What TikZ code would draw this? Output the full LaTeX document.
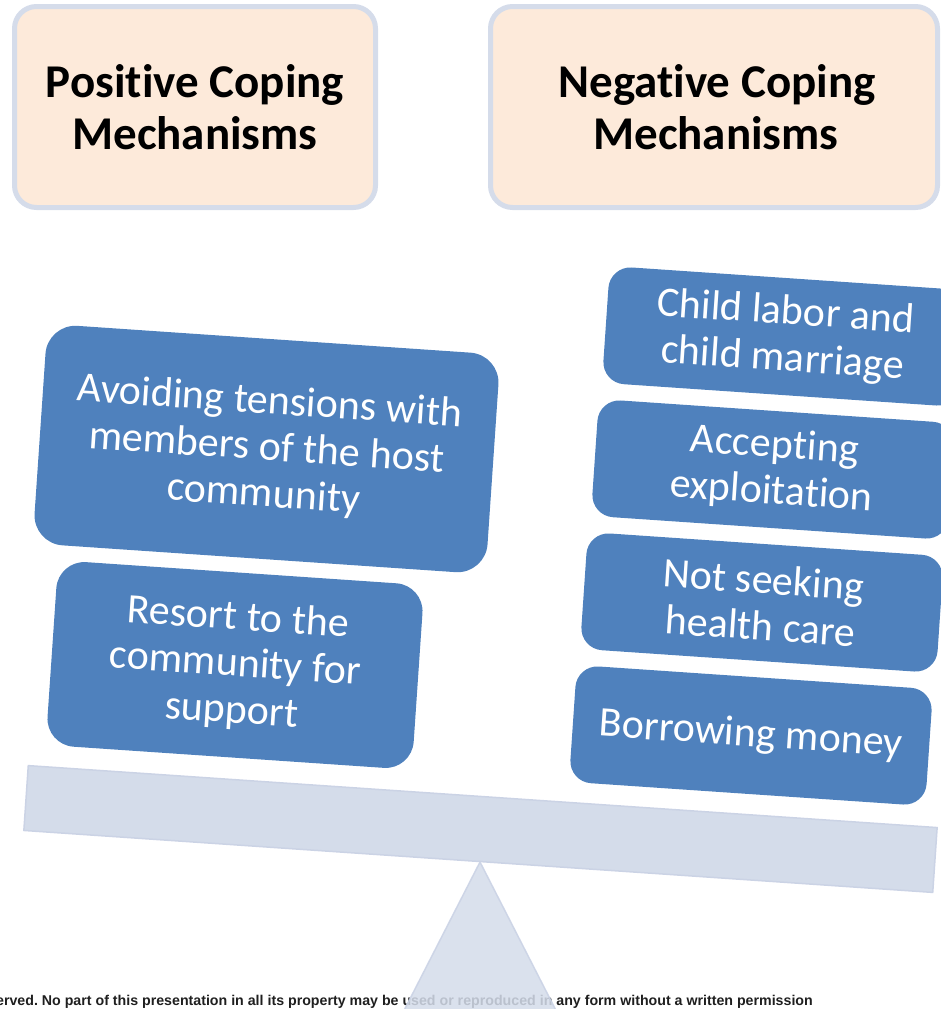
\documentclass[tikz,border=0pt]{standalone}
\usepackage{fontspec}
\setmainfont{Carlito}[Ligatures={NoCommon}]
\newfontfamily\arialfont{Liberation Sans}
\definecolor{peach}{HTML}{FDEADA}
\definecolor{hdrline}{HTML}{D5DCEA}
\definecolor{boxblue}{HTML}{4F81BD}
\definecolor{beamfill}{HTML}{D4DCEA}
\definecolor{beamline}{HTML}{CBD3E5}
\frenchspacing
\begin{document}
\begin{tikzpicture}[x=1pt,y=-1pt,
  hdrbox/.style={draw=hdrline, line width=5pt, fill=peach, rounded corners=22pt,
    inner sep=0pt, align=center, text=black,
    font=\bfseries\fontsize{47}{52}\selectfont},
  bluebox/.style={fill=boxblue, text=white, rounded corners=22pt, inner sep=0pt,
    align=center, rotate=-3.9, font=\fontsize{42}{46.5}\selectfont},
  negbox/.style={bluebox, minimum width=357pt, minimum height=117pt},
  beamstyle/.style={fill=beamfill, draw=beamline, line width=1.5pt, inner sep=0pt},
  tristyle/.style={fill=beamfill, draw=beamline, line width=1.5pt, fill opacity=0.86, draw opacity=0.9, line join=miter},
  notice/.style={font=\arialfont\bfseries\fontsize{14.2}{16}\selectfont, text=black!88, inner sep=0pt}
]
\useasboundingbox (0,0) rectangle (941,1009);
\clip (0,0) rectangle (941,1009);

% headers
\node[hdrbox, minimum width=361pt, minimum height=201pt] (pos) at (195,107) {Positive Coping\\Mechanisms};
\node[hdrbox, minimum width=447pt, minimum height=201pt] (neg) at (714,107) {\hspace*{6pt}Negative Coping\\\hspace*{4pt}Mechanisms};

% positive boxes
\node[bluebox, minimum width=454pt, minimum height=220pt, rounded corners=30pt] (avoid) at (266.5,449) {Avoiding tensions with\\members of the host\\community};
\node[bluebox, minimum width=367pt, minimum height=185pt, rounded corners=28pt] (resort) at (235,665) {Resort to the\\community for\\support};

% negative boxes
\node[negbox] (child) at (784,336.5) {Child labor and\\child marriage};
\node[negbox] (accept) at (773,469.5) {Accepting\\exploitation};
\node[negbox] (notseek) at (762,602.5) {Not seeking\\health care};
\node[negbox] (borrow) at (751,735.5) {Borrowing money};

% beam
\node[beamstyle, minimum width=911pt, minimum height=65pt, rotate=-3.9] (beam) at (480.5,829) {};

% notice text
\node[notice, anchor=base east] (rights) at (813,1005) {erved. No part of this presentation in all its property may be used or reproduced in any form without a written permission};

% fulcrum
\coordinate (apex) at (480,862);
\coordinate (baseL) at (394,1030);
\coordinate (baseR) at (566,1030);
\draw[tristyle] (apex) -- (baseL) -- (baseR) -- cycle;
\end{tikzpicture}
\end{document}
